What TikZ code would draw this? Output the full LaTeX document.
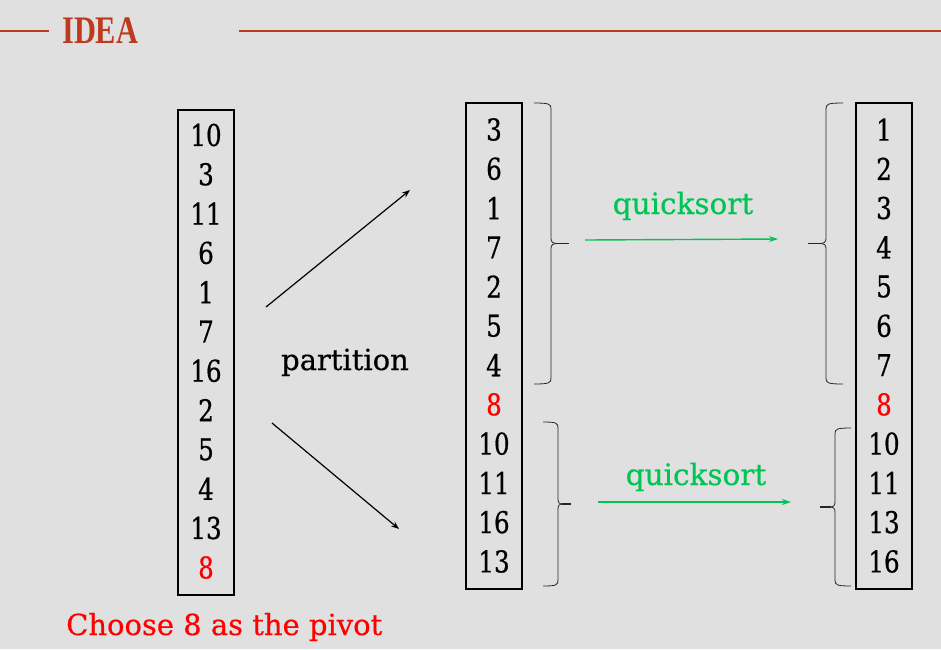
\documentclass[tikz,border=0pt]{standalone}
\usepackage{fontspec}
\setmainfont{DejaVu Serif}
\newfontfamily\numfont[FakeStretch=0.82,FakeBold=0.6]{DejaVu Serif}
\newfontfamily\wordfont[FakeBold=0.5]{DejaVu Serif}
\newfontfamily\titlefont[FakeStretch=0.78]{Liberation Serif}
\usetikzlibrary{arrows.meta}
\definecolor{bgc}{RGB}{224,224,224}
\definecolor{titlec}{RGB}{190,58,30}
\definecolor{qsgreen}{RGB}{0,196,84}
\definecolor{pivred}{RGB}{255,0,0}
\newcommand\qsBrace[5]{% #1 ends x, #2 spine x, #3 tip x, #4 top y, #5 bottom y
  \pgfmathsetmacro\qsym{(#4+#5)/2}
  \draw[bracestyle] (#1,#4) .. controls ({#2+(#1-#2)*0.1},#4) and (#2,{#4+1}) .. (#2,{#4+6})
     -- (#2,{\qsym-5}) .. controls (#2,{\qsym-1.5}) and ({#2+(#3-#2)*0.1},\qsym) .. ({#2+(#3-#2)*0.35},\qsym);
  \draw[bracestyle] (#1,#5) .. controls ({#2+(#1-#2)*0.1},#5) and (#2,{#5-1}) .. (#2,{#5-6})
     -- (#2,{\qsym+5}) .. controls (#2,{\qsym+1.5}) and ({#2+(#3-#2)*0.1},\qsym) .. ({#2+(#3-#2)*0.35},\qsym);
  \draw[bracestyle, line width=1.5pt] ({#2+(#3-#2)*0.3},\qsym) -- (#3,\qsym);
}
\begin{document}
\begin{tikzpicture}[x=1pt,y=-1pt,
  num/.style={font=\numfont\fontsize{30}{30}\selectfont, inner sep=0pt, anchor=center},
  pivotnum/.style={num, text=pivred},
  column/.style={draw=black, line width=1.4pt, minimum width=56pt, inner sep=0pt},
  bracestyle/.style={draw=black!85, line width=0.8pt},
  partarrow/.style={draw=black, line width=1.2pt, -{Stealth[length=8pt,width=6pt]}},
  qsarrow/.style={draw=qsgreen, line width=1.4pt, -{Stealth[length=9pt,width=6pt]}},
  qslabel/.style={text=qsgreen, font=\wordfont\fontsize{29.5}{29.5}\selectfont, inner sep=0pt},
  rule/.style={draw=titlec, line width=2.6pt}]
\fill[bgc] (0,0) rectangle (941,649);
\useasboundingbox (0,0) rectangle (941,649);

% title
\coordinate (r1a) at (0,31); \coordinate (r1b) at (49,31);
\coordinate (r2a) at (239,31); \coordinate (r2b) at (941,31);
\draw[rule] (r1a) -- (r1b);
\draw[rule] (r2a) -- (r2b);
\node[anchor=base west, text=titlec, font=\titlefont\bfseries\fontsize{39}{39}\selectfont, inner sep=0pt] (title) at (62,43) {IDEA};

% boxes
\node[column, minimum height=485pt] (boxL) at (206,352.5) {};
\node[column, minimum height=486pt] (boxM) at (494,346) {};
\node[column, minimum height=486pt] (boxR) at (884,346) {};

% left column
\foreach \v [count=\i] in {10,3,11,6,1,7,16,2,5,4,13}
  \node[num] (l\i) at (206,{135+(\i-1)*39.3}) {\v};
\node[pivotnum] (l12) at (206,567.5) {8};

% middle column
\foreach \v [count=\i] in {3,6,1,7,2,5,4}
  \node[num] (m\i) at (494,{129.5+(\i-1)*39.27}) {\v};
\node[pivotnum] (m8) at (494,{129.5+7*39.27}) {8};
\foreach \v [count=\i from 9] in {10,11,16,13}
  \node[num] (m\i) at (494,{129.5+(\i-1)*39.27}) {\v};

% right column
\foreach \v [count=\i] in {1,2,3,4,5,6,7}
  \node[num] (r\i) at (884,{129.5+(\i-1)*39.27}) {\v};
\node[pivotnum] (r8) at (884,{129.5+7*39.27}) {8};
\foreach \v [count=\i from 9] in {10,11,13,16}
  \node[num] (r\i) at (884,{129.5+(\i-1)*39.27}) {\v};

% partition arrows
\coordinate (pa1) at (266,307); \coordinate (pa2) at (410,190);
\coordinate (pb1) at (272,423); \coordinate (pb2) at (399,529);
\draw[partarrow] (pa1) -- (pa2);
\draw[partarrow] (pb1) -- (pb2);
\node[font=\wordfont\fontsize{29}{29}\selectfont, inner sep=0pt, anchor=base] (part) at (345,370) {partition};

% braces
\qsBrace{534}{551}{569}{103}{384}
\qsBrace{543}{558}{571}{422}{586}
\qsBrace{843}{826}{808}{103}{384}
\qsBrace{851}{835}{820}{428}{586}

% quicksort arrows
\coordinate (qa1) at (585,240); \coordinate (qa2) at (778,239);
\coordinate (qb1) at (598,502); \coordinate (qb2) at (791,502);
\draw[qsarrow] (qa1) -- (qa2);
\draw[qsarrow] (qb1) -- (qb2);
\node[qslabel, anchor=base] (qsa) at (683,214) {quicksort};
\node[qslabel, anchor=base] (qsb) at (696,485) {quicksort};

% caption
\node[anchor=base west, text=pivred, font=\wordfont\fontsize{29}{29}\selectfont, inner sep=0pt] (cap) at (66,635) {Choose 8 as the pivot};
\end{tikzpicture}
\end{document}
